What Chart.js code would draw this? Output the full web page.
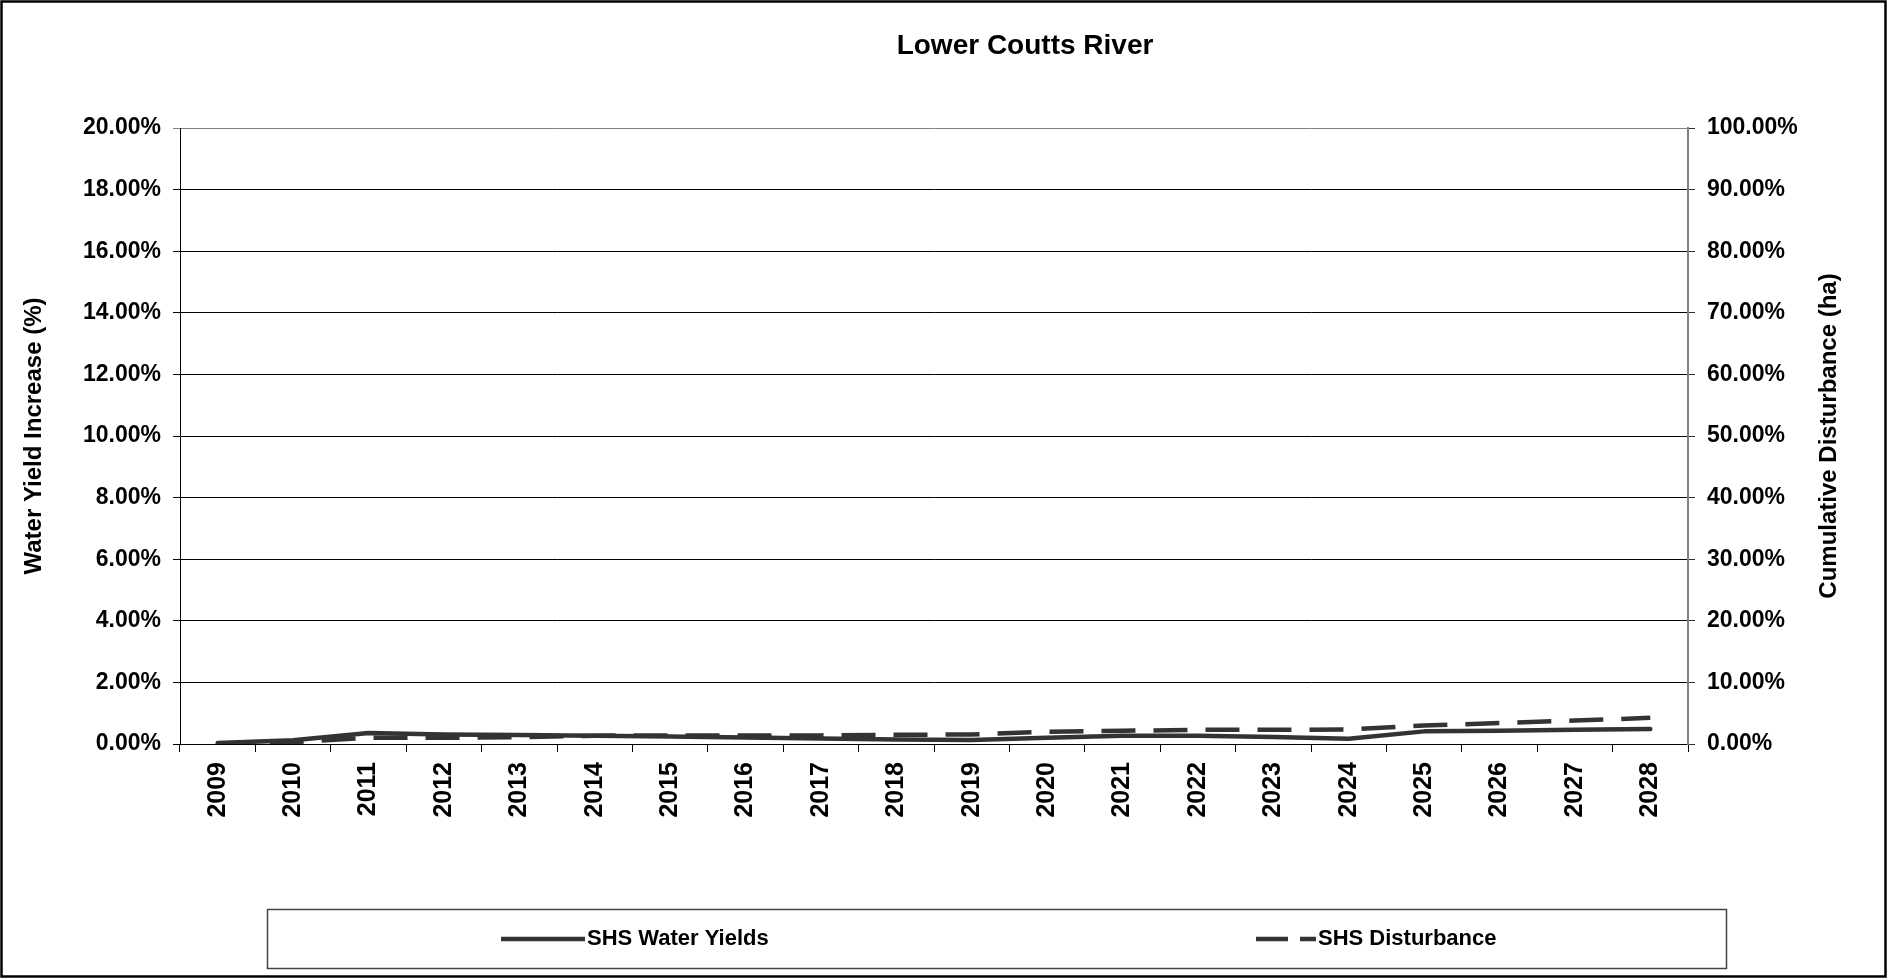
<!DOCTYPE html>
<html>
<head>
<meta charset="utf-8">
<script src="https://cdn.jsdelivr.net/npm/chart.js@4.4.0/dist/chart.umd.min.js"></script>
<style>
html, body { margin: 0; padding: 0; background: #fff; }
canvas { display: block; }
</style>
</head>
<body>
<canvas id="chart" width="1893" height="979"></canvas>
<script>
// categories and series (values in %)
var years = ['2009', '2010', '2011', '2012', '2013', '2014', '2015', '2016', '2017', '2018',
             '2019', '2020', '2021', '2022', '2023', '2024', '2025', '2026', '2027', '2028'];
var waterYields = [0.03, 0.12, 0.36, 0.31, 0.29, 0.27, 0.24, 0.21, 0.18, 0.15,
                   0.13, 0.20, 0.27, 0.27, 0.23, 0.17, 0.41, 0.43, 0.46, 0.49];
var disturbance = [0.0, 0.3, 1.0, 1.0, 1.1, 1.35, 1.4, 1.4, 1.4, 1.5,
                   1.55, 2.0, 2.15, 2.3, 2.3, 2.35, 3.0, 3.4, 3.8, 4.25];
var leftRange = [0, 20, 2];     // min, max, step
var rightRange = [0, 100, 10];

var chartTitle = 'Lower Coutts River';
var leftTitle = 'Water Yield Increase (%)';
var rightTitle = 'Cumulative Disturbance (ha)';

var FONT = '"Liberation Sans", Arial, sans-serif';
var lineColor = '#333333';
var dashPattern = [34, 18];

function pct(v) { return v.toFixed(2) + '%'; }

// title, axis titles, legend box and outer frame
var decorations = {
    id: 'decorations',
    afterDraw: function(chart) {
        var ctx = chart.ctx;
        var area = chart.chartArea;
        var midY = (area.top + area.bottom) / 2;
        ctx.save();
        ctx.fillStyle = '#000';
        ctx.textBaseline = 'middle';
        ctx.textAlign = 'center';

        ctx.font = 'bold 28px ' + FONT;
        ctx.fillText(chartTitle, 1025, 46);

        ctx.font = 'bold 24px ' + FONT;
        ctx.save();
        ctx.translate(34, midY);
        ctx.rotate(-Math.PI / 2);
        ctx.fillText(leftTitle, 0, 0);
        ctx.restore();

        ctx.save();
        ctx.translate(1829, midY);
        ctx.rotate(-Math.PI / 2);
        ctx.fillText(rightTitle, 0, 0);
        ctx.restore();

        // legend
        ctx.strokeStyle = '#444';
        ctx.lineWidth = 1.5;
        ctx.strokeRect(267.5, 909.5, 1459, 59);
        var ly = 939;
        var sets = chart.data.datasets;
        ctx.lineWidth = 4.5;
        ctx.strokeStyle = lineColor;
        ctx.beginPath();
        ctx.moveTo(501, ly);
        ctx.lineTo(585, ly);
        ctx.stroke();
        ctx.setLineDash([32, 12]);
        ctx.beginPath();
        ctx.moveTo(1256, ly);
        ctx.lineTo(1316, ly);
        ctx.stroke();
        ctx.setLineDash([]);
        ctx.textAlign = 'left';
        ctx.font = 'bold 22px ' + FONT;
        ctx.fillText(sets[0].label, 587, ly);
        ctx.fillText(sets[1].label, 1318, ly);

        // outer frame
        ctx.strokeStyle = '#000';
        ctx.lineWidth = 2.5;
        ctx.strokeRect(1.5, 1.5, 1884, 975);
        ctx.restore();
    }
};

var ctx = document.getElementById('chart').getContext('2d');
var chart = new Chart(ctx, {
    type: 'line',
    data: {
        labels: years,
        datasets: [{
            label: 'SHS Water Yields',
            data: waterYields,
            yAxisID: 'y',
            borderColor: lineColor,
            borderWidth: 4.5,
            borderCapStyle: 'round',
            borderJoinStyle: 'round',
            pointRadius: 0,
            fill: false,
            tension: 0
        }, {
            label: 'SHS Disturbance',
            data: disturbance,
            yAxisID: 'y1',
            borderColor: lineColor,
            borderWidth: 4.5,
            borderDash: dashPattern,
            pointRadius: 0,
            fill: false,
            tension: 0
        }]
    },
    options: {
        responsive: false,
        devicePixelRatio: 1,
        animation: false,
        layout: { padding: { top: 128, bottom: 135, left: 0, right: 0 } },
        plugins: {
            legend: { display: false },
            title: { display: false },
            tooltip: { enabled: false }
        },
        scales: {
            x: {
                offset: true,
                grid: { offset: true, drawOnChartArea: false, tickLength: 8, color: '#000' },
                border: { color: '#000', width: 1 },
                ticks: {
                    color: '#000',
                    font: { family: FONT, size: 25, weight: 'bold' },
                    minRotation: 90,
                    maxRotation: 90,
                    autoSkip: false,
                    padding: 10
                },
                afterFit: function(s) { s.height = 100; }
            },
            y: {
                position: 'left',
                min: leftRange[0],
                max: leftRange[1],
                ticks: {
                    stepSize: leftRange[2],
                    color: '#000',
                    padding: 12,
                    font: { family: FONT, size: 23, weight: 'bold' },
                    callback: function(v) { return pct(v); }
                },
                grid: {
                    tickLength: 7,
                    color: function(c) { return c.index === 10 ? '#808080' : '#000'; }
                },
                border: { color: '#000', width: 1 },
                afterFit: function(s) { s.width = 180; }
            },
            y1: {
                position: 'right',
                min: rightRange[0],
                max: rightRange[1],
                ticks: {
                    stepSize: rightRange[2],
                    color: '#000',
                    padding: 12,
                    font: { family: FONT, size: 23, weight: 'bold' },
                    callback: function(v) { return pct(v); }
                },
                grid: { drawOnChartArea: false, tickLength: 7, color: '#333' },
                border: { color: '#808080', width: 2 },
                afterFit: function(s) { s.width = 205; }
            }
        }
    },
    plugins: [decorations]
});
</script>
</body>
</html>
